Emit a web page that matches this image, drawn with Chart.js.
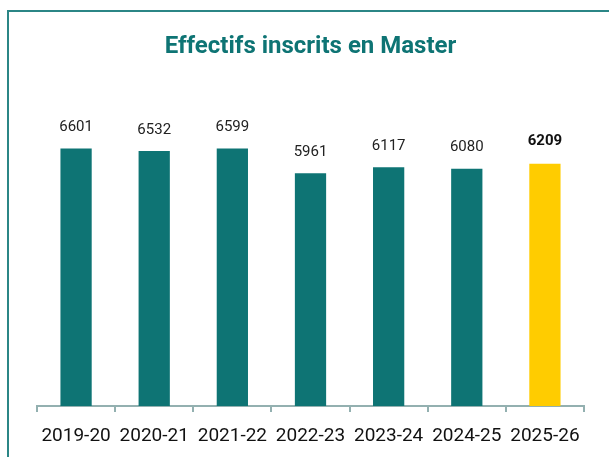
<!DOCTYPE html>
<html>
<head>
<meta charset="utf-8">
<script src="https://cdn.jsdelivr.net/npm/chart.js@4.4.1/dist/chart.umd.min.js"></script>
<style>
  html, body { margin: 0; padding: 0; background: #ffffff; overflow: hidden; }
  #wrap { position: relative; width: 609px; height: 457px; overflow: hidden; }
  #hline { position: absolute; left: 7px; top: 10px; width: 602px; height: 2px; background: #2b8686; }
  #vline { position: absolute; left: 7px; top: 10px; width: 2px; height: 447px; background: #2b8686; }
  canvas { position: absolute; left: 0; top: 0; }
</style>
</head>
<body>
<div id="wrap">
  <div id="hline"></div>
  <div id="vline"></div>
  <canvas id="c" width="609" height="457"></canvas>
</div>
<script>
const categories = ["2019-20", "2020-21", "2021-22", "2022-23", "2023-24", "2024-25", "2025-26"];
const inscrits = [6601, 6532, 6599, 5961, 6117, 6080, 6209];
const titleText = "Effectifs inscrits en Master";

const teal = "#0e7474";
const yellow = "#ffcc00";
const barColors = inscrits.map((v, i) => i === inscrits.length - 1 ? yellow : teal);

const valueLabels = {
  id: "valueLabels",
  afterDatasetsDraw(chart) {
    const ctx = chart.ctx;
    const meta = chart.getDatasetMeta(0);
    ctx.save();
    ctx.textAlign = "center";
    ctx.textBaseline = "middle";
    meta.data.forEach((el, i) => {
      const last = i === inscrits.length - 1;
      ctx.font = (last ? "bold " : "") + "15px Roboto";
      ctx.fillStyle = last ? "#111111" : "#222222";
      ctx.fillText(String(inscrits[i]), el.x, el.y - (last ? 22 : 21));
    });
    ctx.restore();
  }
};

new Chart(document.getElementById("c"), {
  type: "bar",
  data: {
    labels: categories,
    datasets: [{
      data: inscrits,
      backgroundColor: barColors,
      borderWidth: 0,
      categoryPercentage: 0.8,
      barPercentage: 0.5
    }]
  },
  options: {
    responsive: false,
    animation: false,
    layout: { padding: { left: 37, right: 25, top: 0, bottom: -4 } },
    plugins: {
      legend: { display: false },
      tooltip: { enabled: false },
      title: {
        display: true,
        text: titleText,
        color: teal,
        font: { family: "Roboto", size: 24, weight: "bold" },
        padding: { top: 33, bottom: 32 }
      }
    },
    scales: {
      x: {
        grid: { drawOnChartArea: false, drawTicks: true, tickLength: 6, color: "#93b0b0", lineWidth: 2, offset: true },
        border: { display: true, color: "#93b0b0", width: 2 },
        ticks: { color: "#111111", font: { family: "Roboto", size: 19, lineHeight: 1.0 }, padding: 15, maxRotation: 0, autoSkip: false }
      },
      y: {
        display: false,
        min: 0,
        max: 8000
      }
    }
  },
  plugins: [valueLabels]
});
</script>
</body>
</html>
